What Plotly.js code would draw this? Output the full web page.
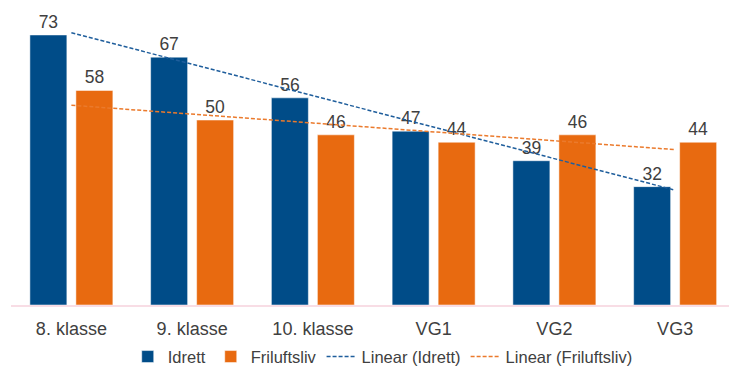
<!DOCTYPE html>
<html>
<head>
<meta charset="utf-8">
<script src="https://cdn.plot.ly/plotly-3.0.1.min.js"></script>
<style>html,body{margin:0;padding:0;background:#fff;}#chart{width:729px;height:369px;}</style>
</head>
<body>
<div id="chart"></div>
<script>
var categories = ["8. klasse", "9. klasse", "10. klasse", "VG1", "VG2", "VG3"];
var idrett = [73, 67, 56, 47, 39, 32];
var friluftsliv = [58, 50, 46, 44, 46, 44];
var seriesNames = ["Idrett", "Friluftsliv", "Linear (Idrett)", "Linear (Friluftsliv)"];

function linearFit(vals) {
  var n = vals.length, sx = 0, sy = 0, sxy = 0, sxx = 0;
  for (var i = 0; i < n; i++) { sx += i; sy += vals[i]; sxy += i * vals[i]; sxx += i * i; }
  var b = (n * sxy - sx * sy) / (n * sxx - sx * sx);
  var a = (sy - b * sx) / n;
  return vals.map(function (_, i) { return a + b * i; });
}

var FONT = '"Liberation Sans Narrow", "Arial Narrow", "Liberation Sans", Arial, sans-serif';
var BLUE = '#004C88', ORANGE = '#E86A10';
var TXT = '#404040';

var traces = [
  {type: 'bar', name: seriesNames[0], x: categories, y: idrett,
   marker: {color: BLUE, line: {color: 'rgba(255,255,255,0.5)', width: 1}},
   text: idrett.map(String), textposition: 'outside', cliponaxis: false,
   textfont: {family: FONT, size: 17.5, color: TXT}, hoverinfo: 'skip'},
  {type: 'bar', name: seriesNames[1], x: categories, y: friluftsliv,
   marker: {color: ORANGE, line: {color: 'rgba(255,255,255,0.5)', width: 1}},
   text: friluftsliv.map(String), textposition: 'outside', cliponaxis: false,
   textfont: {family: FONT, size: 17.5, color: TXT}, hoverinfo: 'skip'},
  {type: 'scatter', mode: 'lines', name: seriesNames[2], x: categories, y: linearFit(idrett),
   line: {color: '#1F5E9C', width: 1.5, dash: '4px,2px'}, hoverinfo: 'skip'},
  {type: 'scatter', mode: 'lines', name: seriesNames[3], x: categories, y: linearFit(friluftsliv),
   line: {color: '#EB7A2C', width: 1.5, dash: '4px,2px'}, hoverinfo: 'skip'}
];

var layout = {
  width: 729, height: 369,
  margin: {l: 11, r: 0, t: 0, b: 64, pad: 0},
  paper_bgcolor: '#fff', plot_bgcolor: '#fff',
  barmode: 'group', bargap: 0.238, bargroupgap: 0.196,
  font: {family: FONT, color: TXT},
  xaxis: {type: 'category', range: [-0.5, 5.446], showgrid: false, zeroline: false,
          showline: true, linecolor: '#F8DDE5', linewidth: 1.5, ticks: '', automargin: false,
          tickfont: {family: FONT, size: 18, color: TXT}, ticklabelstandoff: 7},
  yaxis: {range: [0, 82.45], visible: false, showgrid: false, zeroline: false, automargin: false},
  showlegend: true,
  legend: {orientation: 'h', x: 0.525, xanchor: 'center', xref: 'container',
           y: 0.033, yanchor: 'middle', yref: 'container',
           font: {family: FONT, size: 16.5, color: TXT}, itemwidth: 30, tracegroupgap: 0,
           traceorder: 'normal', bgcolor: 'rgba(0,0,0,0)'}
};

Plotly.newPlot('chart', traces, layout, {staticPlot: true, displayModeBar: false});
</script>
</body>
</html>
